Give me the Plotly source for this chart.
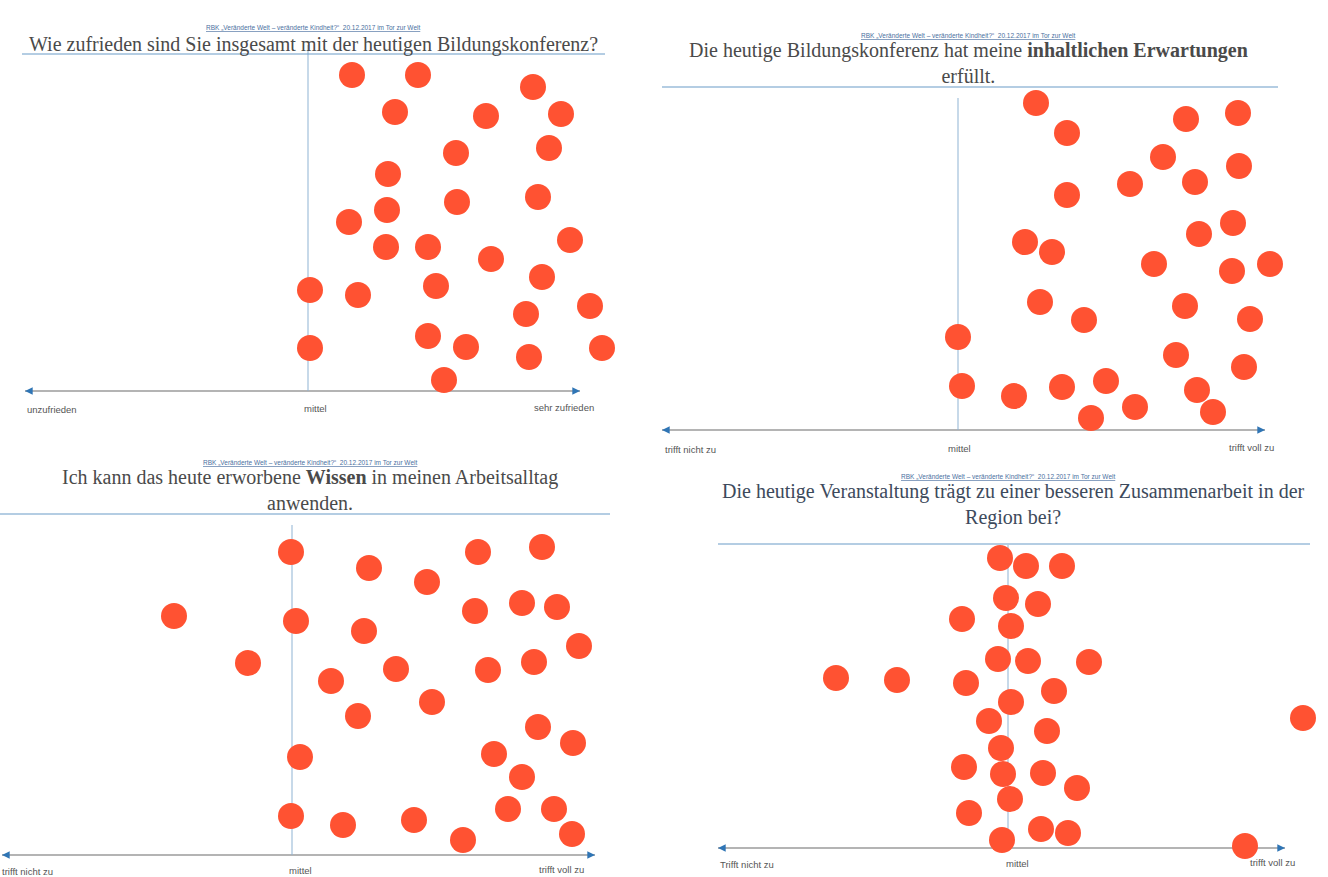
import plotly.graph_objects as go

# ---- data: dot positions (sheet coordinates, px-like units) per panel ----
p1_x = [352, 418, 533, 395, 486, 561, 456, 549, 388, 538, 387, 457, 349, 386, 428, 570, 491, 542, 310, 358, 436, 590, 526, 310, 428, 466, 529, 602, 444]
p1_y = [75, 75, 87, 112, 116, 114, 153, 148, 174, 197, 210, 202, 222, 247, 247, 240, 259, 277, 290, 295, 286, 306, 314, 348, 336, 347, 357, 348, 380]

p2_x = [1036, 1238, 1186, 1067, 1163, 1239, 1130, 1195, 1067, 1233, 1199, 1025, 1052, 1154, 1232, 1270, 1040, 1185, 1084, 1250, 958, 1176, 1244, 962, 1014, 1062, 1106, 1197, 1135, 1091, 1213]
p2_y = [103, 113, 119, 133, 157, 166, 184, 182, 195, 223, 234, 242, 252, 264, 271, 264, 302, 306, 320, 319, 337, 355, 367, 386, 396, 387, 381, 390, 407, 418, 412]

p3_x = [291, 369, 478, 542, 427, 174, 296, 475, 522, 557, 364, 579, 248, 396, 488, 534, 331, 432, 358, 538, 573, 300, 494, 522, 291, 343, 414, 463, 508, 554, 572]
p3_y = [552, 568, 552, 547, 582, 616, 621, 611, 603, 607, 631, 646, 663, 669, 670, 662, 681, 702, 716, 727, 743, 757, 754, 777, 816, 825, 820, 840, 809, 809, 834]

p4_x = [1000, 1026, 1062, 1006, 1038, 962, 1011, 998, 1028, 1089, 836, 897, 966, 1054, 1011, 989, 1303, 1047, 1001, 964, 1003, 1043, 1077, 1010, 969, 1041, 1068, 1002, 1245]
p4_y = [558, 566, 566, 598, 604, 619, 626, 659, 661, 662, 678, 680, 683, 691, 702, 721, 718, 731, 748, 767, 774, 773, 788, 799, 813, 829, 833, 840, 846]

subtitle = "RBK \u201eVeränderte Welt \u2013 veränderte Kindheit?\u201c  20.12.2017 im Tor zur Welt"
titles = [
    "Wie zufrieden sind Sie insgesamt mit der heutigen Bildungskonferenz?",
    "Die heutige Bildungskonferenz hat meine <b>inhaltlichen Erwartungen</b><br>erfüllt.",
    "Ich kann das heute erworbene <b>Wissen</b> in meinen Arbeitsalltag<br>anwenden.",
    "Die heutige Veranstaltung trägt zu einer besseren Zusammenarbeit in der<br>Region bei?",
]
left_labels = ["unzufrieden", "trifft nicht zu", "trifft nicht zu", "Trifft nicht zu"]
mid_labels = ["mittel", "mittel", "mittel", "mittel"]
right_labels = ["sehr zufrieden", "trifft voll zu", "trifft voll zu", "trifft voll zu"]

# ---- layout geometry per panel ----
panels = [
    dict(x=p1_x, y=p1_y, L=25, R=580, base=391, mid=308, midtop=45, rule_y=54, rL=22, rR=605,
         sub=(313, 27), title=(313, 44), lab_y=409, ll=25, ml=315, rl=596),
    dict(x=p2_x, y=p2_y, L=662, R=1265, base=430, mid=958, midtop=98, rule_y=87, rL=662, rR=1278,
         sub=(968, 35), title=(968, 63), lab_y=449, ll=663, ml=959, rl=1276),
    dict(x=p3_x, y=p3_y, L=2, R=595, base=855, mid=292, midtop=525, rule_y=514, rL=0, rR=610,
         sub=(310, 462), title=(310, 490), lab_y=871, ll=0, ml=300, rl=586),
    dict(x=p4_x, y=p4_y, L=718, R=1285, base=848, mid=1008, midtop=545, rule_y=544, rL=718, rR=1310,
         sub=(1008, 476), title=(1013, 504), lab_y=864, ll=718, ml=1017, rl=1297),
]

DOT = "#FF5232"
fig = go.Figure()
shapes, annos = [], []
for i, p in enumerate(panels):
    fig.add_trace(go.Scatter(x=p["x"], y=p["y"], mode="markers",
                             marker=dict(size=26, color=DOT, line=dict(width=0)),
                             showlegend=False, hoverinfo="skip"))
    # baseline
    shapes.append(dict(type="line", x0=p["L"], x1=p["R"], y0=p["base"], y1=p["base"],
                       line=dict(color="#6b6b6b", width=1.2), layer="below"))
    # mittel line
    shapes.append(dict(type="line", x0=p["mid"], x1=p["mid"], y0=p["midtop"], y1=p["base"],
                       line=dict(color="#8fb3d3", width=1), layer="below"))
    # title rule
    shapes.append(dict(type="line", x0=p["rL"], x1=p["rR"], y0=p["rule_y"], y1=p["rule_y"],
                       line=dict(color="#6a9bc7", width=1.2), layer="below"))
    # arrow heads (small blue)
    for xe, d in ((p["L"], 1), (p["R"], -1)):
        annos.append(dict(x=xe, y=p["base"], ax=xe + d * 7, ay=p["base"], xref="x", yref="y",
                          axref="x", ayref="y", text="", showarrow=True, arrowhead=2,
                          arrowsize=0.7, arrowwidth=2.2, arrowcolor="#2f75b5"))
    tcol = "#3d4a5c" if i == 3 else "#4a4a4a"
    annos.append(dict(x=p["sub"][0], y=p["sub"][1], text="<u>" + subtitle + "</u>", showarrow=False,
                      font=dict(family="Liberation Sans", size=6.5, color="#4a6fa0"),
                      xanchor="center", yanchor="middle"))
    annos.append(dict(x=p["title"][0], y=p["title"][1], text=titles[i], showarrow=False,
                      font=dict(family="Liberation Serif", size=20, color=tcol),
                      xanchor="center", yanchor="middle"))
    lf = dict(family="Liberation Sans", size=9.5, color="#555555")
    annos.append(dict(x=p["ll"], y=p["lab_y"], text=left_labels[i], showarrow=False, font=lf,
                      xanchor="left", yanchor="middle"))
    annos.append(dict(x=p["ml"], y=p["lab_y"] - 1, text=mid_labels[i], showarrow=False, font=lf,
                      xanchor="center", yanchor="middle"))
    annos.append(dict(x=p["rl"], y=p["lab_y"] - 2, text=right_labels[i], showarrow=False, font=lf,
                      xanchor="right", yanchor="middle"))

fig.update_layout(
    width=1328, height=877,
    margin=dict(l=0, r=0, t=0, b=0),
    paper_bgcolor="white", plot_bgcolor="white",
    xaxis=dict(range=[0, 1328], visible=False, fixedrange=True),
    yaxis=dict(range=[877, 0], visible=False, fixedrange=True),
    shapes=shapes, annotations=annos,
)
fig.write_html("out.html", config={"displayModeBar": False},
               post_script="document.body.style.margin='0';document.body.style.overflow='hidden';")
